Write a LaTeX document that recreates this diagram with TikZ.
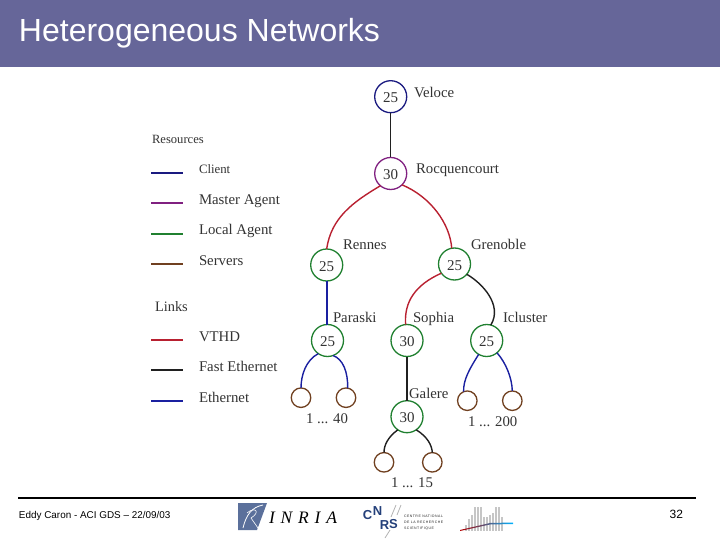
\documentclass[tikz,border=0pt]{standalone}
\usepackage{fontspec}
\setmainfont{Liberation Serif}
\newfontfamily\arialf{Liberation Sans}
\newfontfamily\arialsp[LetterSpace=14]{Liberation Sans}
\definecolor{band}{HTML}{666699}
\definecolor{cblue}{HTML}{1A1A80}
\definecolor{cpurple}{HTML}{802080}
\definecolor{cgreen}{HTML}{208030}
\definecolor{cbrown}{HTML}{704020}
\definecolor{cred}{HTML}{B82030}
\definecolor{cblack}{HTML}{202020}
\definecolor{ceth}{HTML}{1A20A0}
\definecolor{lab}{HTML}{333333}
\definecolor{logob}{HTML}{24407A}
\tikzset{
 every node/.style={inner sep=0pt,outer sep=0pt},
 nd/.style={circle,draw,line width=1.3pt,minimum size=32pt,font=\fontsize{15}{15}\selectfont,text=lab,fill=white,text height=12pt,text depth=0pt},
 leaf/.style={circle,draw=cbrown,line width=1.3pt,minimum size=19.5pt,fill=white},
 lbl/.style={anchor=base west,font=\fontsize{14.8}{15}\selectfont,text=lab},
 leg/.style={anchor=base west,font=\fontsize{14.8}{15}\selectfont,text=lab},
 vthd/.style={cred,line width=1.4pt},
 fast/.style={cblack,line width=1.4pt},
 ether/.style={ceth,line width=1.4pt}
}
\begin{document}
\begin{tikzpicture}[x=1pt,y=-1pt]
\useasboundingbox (0,0) rectangle (720,540);
\fill[band] (0,0) rectangle (720,67);
\node[anchor=base west,text=white,font=\arialf\fontsize{32}{32}\selectfont] (title) at (19,42) {Heterogeneous Networks};
% legend
\node[leg,font=\fontsize{12.6}{13}\selectfont] (res) at (152,144) {Resources};
\foreach \n/\t/\y/\ty/\c/\w in {b/Master Agent/203/204.5/cpurple/1.4pt,c/Local Agent/234/235/cgreen/2.2pt,d/Servers/264/265.5/cbrown/1.2pt,e/VTHD/340/341.5/cred/1.4pt,f/Fast Ethernet/370/371.5/cblack/1.8pt,g/Ethernet/401/402.5/ceth/1.4pt}{
 \node[leg] (t\n) at (199,\ty) {\t};
 \coordinate (s\n) at (151,\y);
 \coordinate (u\n) at (183,\y);
 \draw[\c,line width=\w] (s\n) -- (u\n);
}
\node[leg,font=\fontsize{12.8}{13}\selectfont] (ta) at (199,174) {Client};
\coordinate (sa) at (151,173);
\coordinate (ua) at (183,173);
\draw[cblue,line width=1.4pt] (sa) -- (ua);
\node[leg,font=\fontsize{14.4}{15}\selectfont] (links) at (155,311) {Links};
% nodes
\node[nd,draw=cblue] (veloce) at (390.7,96.7) {25};
\node[nd,draw=cpurple] (roc) at (390.7,173.5) {30};
\node[nd,draw=cgreen] (rennes) at (326.7,265) {25};
\node[nd,draw=cgreen] (gren) at (454.5,264) {25};
\node[nd,draw=cgreen] (paraski) at (327.5,340.5) {25};
\node[nd,draw=cgreen] (sophia) at (407,340.5) {30};
\node[nd,draw=cgreen] (icl) at (486.7,340.5) {25};
\node[nd,draw=cgreen] (galere) at (407,416.7) {30};
\node[leaf] (p1) at (301,397.7) {};
\node[leaf] (p2) at (346,397.7) {};
\node[leaf] (i1) at (467.3,400.7) {};
\node[leaf] (i2) at (512.3,400.7) {};
\node[leaf] (g1) at (384,462.3) {};
\node[leaf] (g2) at (432.3,462.3) {};
% connectors
\draw[fast] (veloce) -- (roc);
\draw[vthd] (roc.-130) .. controls (353,202) and (331,218) .. (rennes.north);
\draw[vthd] (roc.-45) .. controls (431,197) and (450,224) .. (gren.100);
\draw[ether,line width=1.8pt] (rennes.south) -- (rennes.south|-paraski.north);
\draw[vthd] (gren.-145) .. controls (415,285) and (404,302) .. (sophia.95);
\draw[fast] (gren.-40) .. controls (482,283) and (503,305) .. (icl.75);
\draw[fast] (sophia) -- (galere);
\draw[ether] (paraski.-125) .. controls (306,360) and (301,375) .. (p1.north);
\draw[ether] (paraski.-70) .. controls (343,359) and (348,372) .. (p2.80);
\draw[ether] (icl.-120) .. controls (470,368) and (463,380) .. (i1.112);
\draw[ether] (icl.-50) .. controls (506,363) and (512,378) .. (i2.north);
\draw[fast] (galere.-125) .. controls (388,437) and (384,445) .. (g1.north);
\draw[fast] (galere.-55) .. controls (428,437) and (432,446) .. (g2.north);
% labels
\node[lbl] (lv) at (414,97.5) {Veloce};
\node[lbl] (lr) at (416,173.5) {Rocquencourt};
\node[lbl] (lre) at (343,249.5) {Rennes};
\node[lbl] (lg) at (471,249.5) {Grenoble};
\node[lbl] (lp) at (333,322.5) {Paraski};
\node[lbl] (ls) at (413,322.5) {Sophia};
\node[lbl] (li) at (503,322.5) {Icluster};
\node[lbl] (lga) at (409,398.5) {Galere};
\node[lbl] (n1) at (306,423) {1 ... 40};
\node[lbl] (n2) at (468,426) {1 ... 200};
\node[lbl] (n3) at (391,487) {1 ... 15};
% footer
\coordinate (fa) at (18,497.5);
\coordinate (fb) at (696,497.5);
\draw[black,line width=2pt] (fa) -- (fb);
\node[anchor=west,font=\arialf\fontsize{9.9}{10}\selectfont] (foot) at (19,515.5) {Eddy Caron - ACI GDS – 22/09/03};
\node[anchor=east,font=\arialf\fontsize{12}{12}\selectfont] (pg) at (683,514) {32};
% INRIA logo
\fill[logob!75!white] (238,503) -- (267,503) -- (257,530) -- (238,530) -- cycle;
\draw[white,line width=.8pt] (243,528) .. controls (246,515) and (252,507) .. (263,505);
\draw[white,line width=.6pt] (247,513) .. controls (255,506) and (261,512) .. (251,518) -- (258,528);
\node[anchor=west,font=\itshape\fontsize{17.5}{18}\selectfont,text=black] (inria) at (269,518) {I\,\,N\,\,R\,\,I\,\,A};
% CNRS logo
\foreach \n/\l/\x/\y in {cc/C/367.5/515,cn/N/377.5/511,cr/R/384.5/525,cs/S/393.5/524}{
 \node[font=\arialf\bfseries\fontsize{13}{13}\selectfont,text=logob] (\n) at (\x,\y) {\l};
}
\draw[gray!60,line width=.8pt] (396,505) -- (391,517);
\draw[gray!60,line width=.8pt] (401,505) -- (397,515);
\draw[gray!60,line width=.8pt] (385,538) -- (390,530);
\node[anchor=west,align=left,font=\arialsp\fontsize{3.5}{6}\selectfont,text=black!85] (cnrst) at (404,523) {CENTRE NATIONAL\\DE LA RECHERCHE\\SCIENTIFIQUE};
% third logo
\foreach \x/\h in {465/6,468/12,471/16,474/24,477/24,480/24,483/14,486/14,489/16,492/18,495/24,498/24,501/14}{
 \fill[gray!45] (\x,531) rectangle ++(2.2,-\h);
}
\shade[left color=red!70!black,right color=cyan!70!blue] (460,530) -- (490,523) -- (513,522.5) -- (513,524) -- (490,524.5) -- (460,531) -- cycle;
\end{tikzpicture}
\end{document}
